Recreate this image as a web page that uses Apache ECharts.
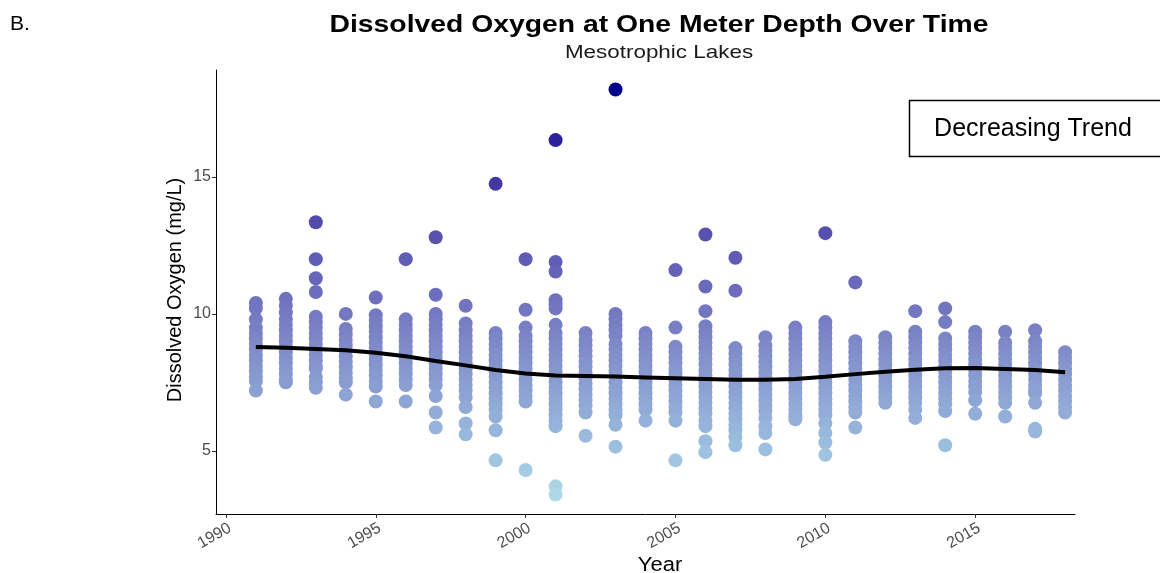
<!DOCTYPE html>
<html>
<head>
<meta charset="utf-8">
<script src="https://cdn.jsdelivr.net/npm/echarts@6/dist/echarts.min.js"></script>
<style>html,body{margin:0;padding:0;background:#fff;}#chart{width:1160px;height:573px;}</style>
</head>
<body>
<div id="chart"></div>
<script>
// ---- data ----
const years = [1991,1992,1993,1994,1995,1996,1997,1998,1999,2000,2001,2002,2003,2004,2005,2006,2007,2008,2009,2010,2011,2012,2013,2014,2015,2016,2017,2018];

const do1991 = [10.4,10.2,9.8,9.5,9.3,9.1,8.9,8.7,8.5,8.3,8.1,7.9,7.7,7.55,7.2];
const do1992 = [10.55,10.3,10.05,9.8,9.6,9.4,9.2,9.0,8.8,8.6,8.4,8.2,8.0,7.8,7.6,7.5];
const do1993 = [13.35,12.0,11.3,10.8,9.9,9.7,9.5,9.3,9.1,8.9,8.7,8.5,8.3,8.1,8.0,7.7,7.5,7.3];
const do1994 = [10.0,9.45,9.25,9.05,8.85,8.65,8.45,8.25,8.05,7.85,7.65,7.5,7.05];
const do1995 = [10.6,9.95,9.75,9.55,9.35,9.15,8.95,8.75,8.55,8.35,8.15,7.95,7.75,7.55,7.35,6.8];
const do1996 = [12.0,9.8,9.6,9.4,9.2,9.0,8.8,8.6,8.4,8.2,8.0,7.8,7.6,7.4,6.8];
const do1997 = [12.8,10.7,10.0,9.8,9.6,9.4,9.2,9.0,8.8,8.6,8.4,8.2,8.0,7.8,7.6,7.4,7.0,6.4,5.85];
const do1998 = [10.3,9.65,9.4,9.2,9.0,8.8,8.6,8.4,8.2,8.0,7.8,7.6,7.4,7.2,6.95,6.6,6.0,5.6];
const do1999 = [14.75,9.3,9.1,8.9,8.7,8.5,8.3,8.1,7.9,7.7,7.5,7.3,7.1,6.9,6.7,6.5,6.25,5.75,4.65];
const do2000 = [12.0,10.15,9.5,9.2,9.0,8.8,8.6,8.4,8.2,8.0,7.8,7.6,7.4,7.2,7.0,6.8,4.3];
const do2001 = [16.35,11.9,11.55,10.5,10.35,10.2,9.6,9.3,9.1,8.9,8.7,8.5,8.3,8.1,7.9,7.7,7.5,7.3,7.1,6.9,6.7,6.5,6.3,6.1,5.9,3.7,3.4];
const do2002 = [9.3,9.05,8.85,8.65,8.45,8.25,8.05,7.85,7.65,7.45,7.25,7.05,6.85,6.65,6.4,5.55];
const do2003 = [18.2,10.0,9.8,9.6,9.4,9.2,8.9,8.7,8.5,8.3,8.1,7.9,7.7,7.5,7.3,7.1,6.9,6.7,6.5,6.3,5.95,5.15];
const do2004 = [9.3,9.1,8.9,8.7,8.5,8.3,8.1,7.9,7.7,7.5,7.3,7.1,6.9,6.7,6.5,6.1];
const do2005 = [11.6,9.5,8.8,8.6,8.4,8.2,8.0,7.8,7.6,7.4,7.2,7.0,6.8,6.6,6.4,6.1,4.65];
const do2006 = [12.9,11.0,10.1,9.55,9.35,9.15,8.95,8.75,8.55,8.35,8.15,7.95,7.75,7.55,7.35,7.15,6.95,6.75,6.55,6.35,6.1,5.9,5.35,4.95];
const do2007 = [12.05,10.85,8.75,8.55,8.35,8.15,7.95,7.75,7.55,7.35,7.15,6.95,6.75,6.55,6.35,6.15,5.95,5.75,5.5,5.2];
const do2008 = [9.15,8.85,8.65,8.45,8.25,8.05,7.85,7.65,7.45,7.25,7.05,6.85,6.65,6.45,6.2,5.9,5.65,5.05];
const do2009 = [9.5,9.3,9.1,8.9,8.7,8.5,8.3,8.1,7.9,7.7,7.5,7.3,7.1,6.9,6.7,6.5,6.3,6.15];
const do2010 = [12.95,9.7,9.5,9.3,9.1,8.9,8.7,8.5,8.3,8.1,7.9,7.7,7.5,7.3,7.1,6.9,6.7,6.5,6.3,6.0,5.65,5.3,4.85];
const do2011 = [11.15,9.0,8.8,8.6,8.4,8.2,8.0,7.8,7.6,7.4,7.2,7.0,6.8,6.6,6.4,5.85];
const do2012 = [9.15,8.95,8.75,8.55,8.35,8.15,7.95,7.75,7.55,7.35,7.15,6.95,6.75];
const do2013 = [10.1,9.35,9.15,8.95,8.75,8.55,8.35,8.15,7.95,7.75,7.55,7.35,7.15,6.95,6.75,6.5,6.2];
const do2014 = [10.2,9.7,9.1,8.9,8.7,8.5,8.3,8.1,7.9,7.7,7.5,7.3,7.1,6.9,6.7,6.45,5.2];
const do2015 = [9.35,9.15,8.95,8.75,8.55,8.35,8.15,7.95,7.75,7.55,7.35,7.15,6.85,6.35];
const do2016 = [9.35,8.95,8.75,8.55,8.35,8.15,7.95,7.75,7.55,7.35,7.15,6.95,6.75,6.25];
const do2017 = [9.4,9.0,8.8,8.6,8.4,8.2,8.0,7.8,7.6,7.4,7.2,7.1,6.75,5.8,5.7];
const do2018 = [8.6,8.4,8.2,8.0,7.8,7.6,7.4,7.2,7.0,6.8,6.6,6.4];

const trend = [8.79,8.76,8.72,8.67,8.58,8.45,8.28,8.12,7.95,7.82,7.75,7.73,7.71,7.68,7.65,7.62,7.59,7.59,7.62,7.70,7.80,7.89,7.96,8.01,8.02,7.99,7.95,7.87];
const trendHalf = [0.16,0.12,0.10,0.09,0.08,0.08,0.07,0.07,0.07,0.07,0.07,0.07,0.07,0.07,0.07,0.07,0.07,0.07,0.07,0.07,0.07,0.07,0.07,0.08,0.08,0.09,0.11,0.17];

const xTicks = [1990,1995,2000,2005,2010,2015];
const yTicks = [5,10,15];

// ---- build ----
const columns = [do1991,do1992,do1993,do1994,do1995,do1996,do1997,do1998,do1999,do2000,do2001,do2002,do2003,do2004,do2005,do2006,do2007,do2008,do2009,do2010,do2011,do2012,do2013,do2014,do2015,do2016,do2017,do2018];
const points = [];
columns.forEach((col, i) => col.forEach(v => points.push([years[i], v])));
const bandLow = years.map((y, i) => [y, trend[i] - trendHalf[i]]);
const bandWidth = years.map((y, i) => [y, 2 * trendHalf[i]]);
const trendLine = years.map((y, i) => [y, trend[i]]);

const chart = echarts.init(document.getElementById('chart'), null, {renderer: 'canvas'});
const FONT = 'Liberation Sans, Arial, sans-serif';
chart.setOption({
  animation: false,
  backgroundColor: '#fff',
  grid: {left: 216, right: 85, top: 70, bottom: 59, containLabel: false},
  xAxis: {
    type: 'value', min: 1989.67, max: 2018.33,
    splitLine: {show: false},
    axisLine: {show: true, lineStyle: {color: '#000', width: 1}},
    axisTick: {show: true, length: 4, lineStyle: {color: '#333'}, customValues: xTicks},
    axisLabel: {customValues: xTicks, rotate: 30, color: '#4d4d4d', fontSize: 16, fontFamily: FONT, margin: 6,
      verticalAlign: 'top', formatter: v => String(Math.round(v))}
  },
  yAxis: {
    type: 'value', min: 2.69, max: 18.91,
    splitLine: {show: false},
    axisLine: {show: true, lineStyle: {color: '#000', width: 1}},
    axisTick: {show: true, length: 4, lineStyle: {color: '#333'}, customValues: yTicks},
    axisLabel: {customValues: yTicks, color: '#4d4d4d', fontSize: 16, fontFamily: FONT, margin: 5,
      formatter: v => String(Math.round(v))}
  },
  visualMap: {
    type: 'continuous', show: false, seriesIndex: 0, dimension: 1,
    min: 3.4, max: 18.2,
    inRange: {color: ['#ADD8E6','#9BBDDF','#8CA2D3','#7D87C7','#6C6DBC','#5A54B0','#463BA4','#2E2197','#00008B']}
  },
  series: [
    {type: 'scatter', data: points, symbol: 'circle', symbolSize: 14, z: 2, itemStyle: {opacity: 1}},
    {type: 'line', data: bandLow, stack: 'band', symbol: 'none', lineStyle: {opacity: 0}, z: 3, silent: true},
    {type: 'line', data: bandWidth, stack: 'band', symbol: 'none', lineStyle: {opacity: 0},
     areaStyle: {color: '#999999', opacity: 0.45}, z: 3, silent: true},
    {type: 'line', data: trendLine, symbol: 'none', lineStyle: {color: '#000', width: 4}, z: 4, silent: true}
  ],
  graphic: [
    {type: 'text', left: 10, top: 14, style: {text: 'B.', font: '21px ' + FONT, fill: '#000'}},
    {type: 'text', x: 659, y: 25, scaleX: 1.18, style: {text: 'Dissolved Oxygen at One Meter Depth Over Time', font: 'bold 24px ' + FONT, fill: '#000', textAlign: 'center', textVerticalAlign: 'middle'}},
    {type: 'text', x: 659, y: 53, scaleX: 1.18, style: {text: 'Mesotrophic Lakes', font: '19px ' + FONT, fill: '#1a1a1a', textAlign: 'center', textVerticalAlign: 'middle'}},
    {type: 'text', x: 660, y: 565, scaleX: 1.1, style: {text: 'Year', font: '20px ' + FONT, fill: '#000', textAlign: 'center', textVerticalAlign: 'middle'}},
    {type: 'text', x: 175, y: 290, rotation: Math.PI / 2, style: {text: 'Dissolved Oxygen (mg/L)', font: '20px ' + FONT, fill: '#000', textAlign: 'center', textVerticalAlign: 'middle'}},
    {type: 'rect', shape: {x: 909.5, y: 100.5, width: 300, height: 56}, style: {fill: '#fff', stroke: '#000', lineWidth: 1.5}, z: 10},
    {type: 'text', x: 1033, y: 129, z: 11, style: {text: 'Decreasing Trend', font: '25px ' + FONT, fill: '#000', textAlign: 'center', textVerticalAlign: 'middle'}}
  ]
});
</script>
</body>
</html>
